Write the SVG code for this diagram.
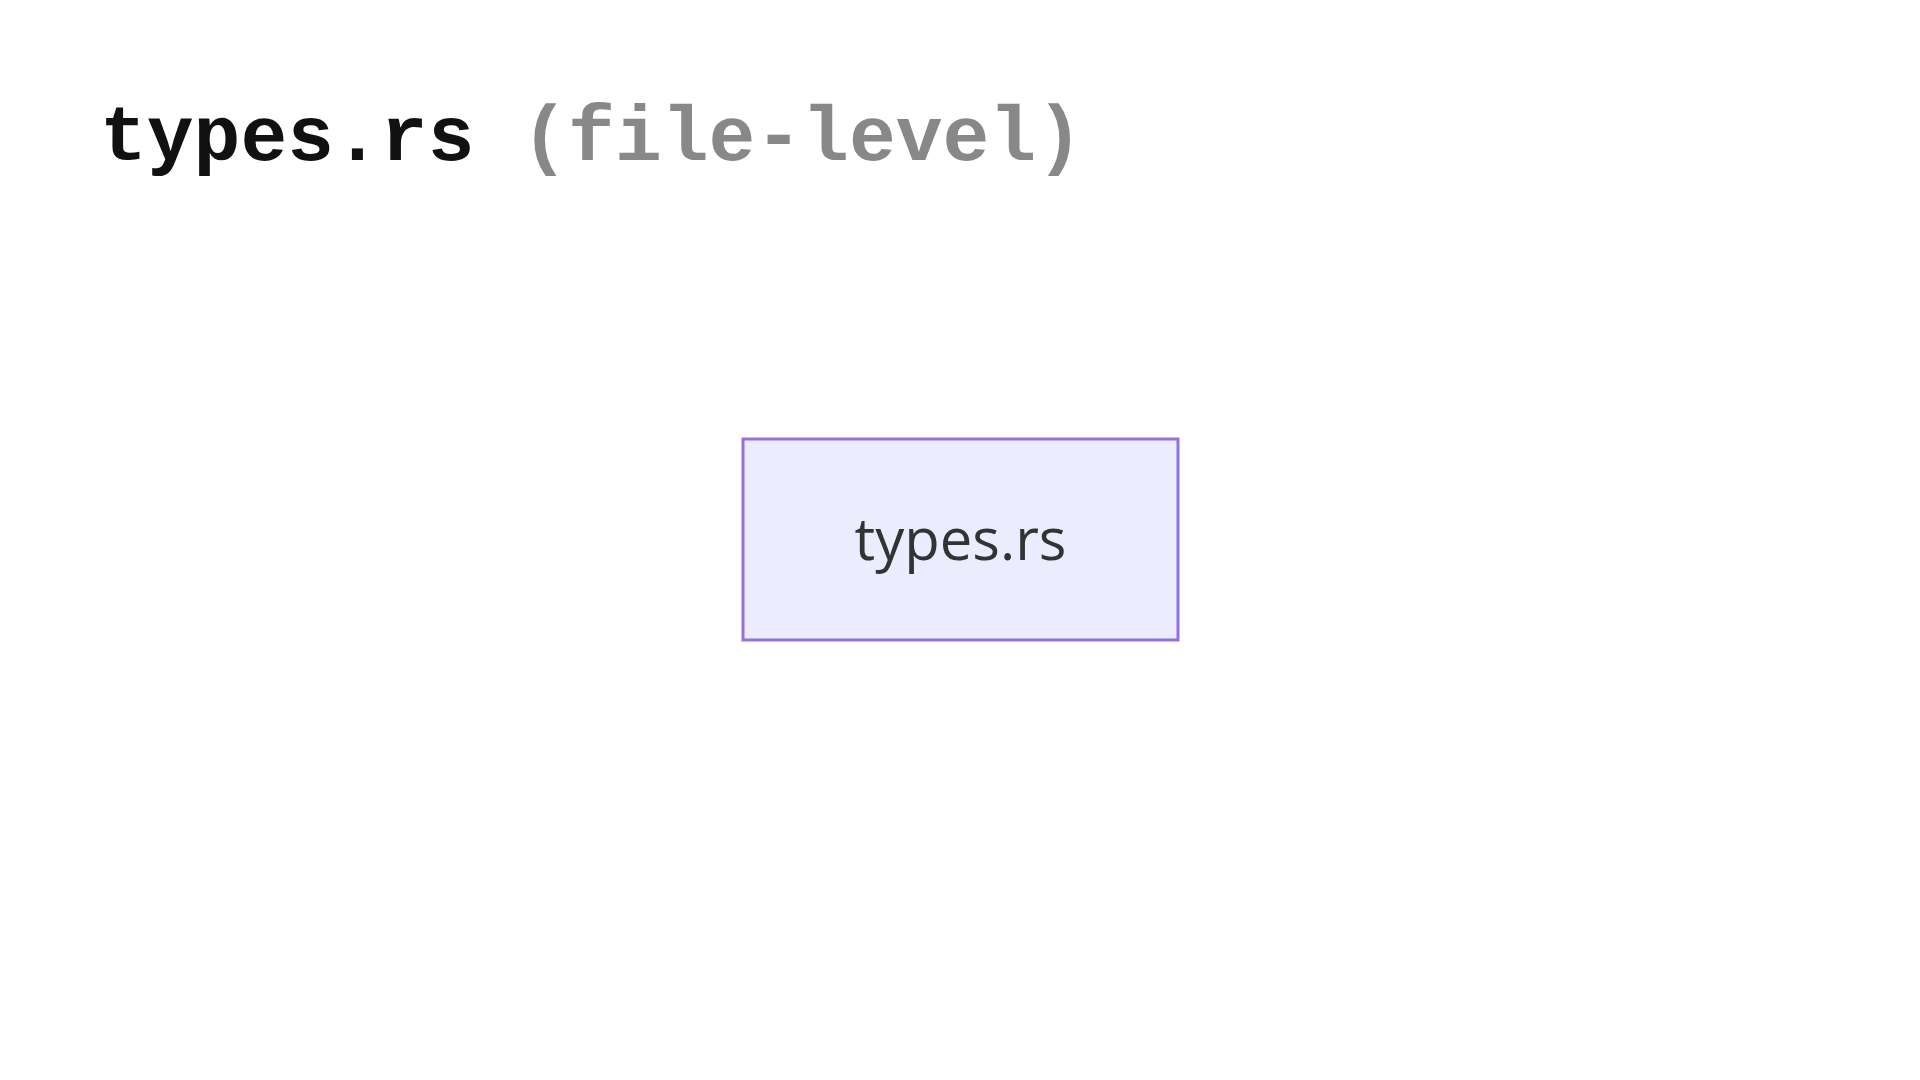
<svg xmlns="http://www.w3.org/2000/svg" width="1920" height="1080" viewBox="0 0 1920 1080">
<style>
.title{font-family:"Liberation Mono","DejaVu Sans Mono",monospace;font-weight:bold;font-size:78px}
.node rect{fill:#ECECFF;stroke:#9370DB;stroke-width:3}
.node text{font-family:"Open Sans","Noto Sans",sans-serif;font-size:58px;fill:#333;text-anchor:middle}
</style>
<rect width="1920" height="1080" fill="#fff"/>
<text class="title" x="100" y="160"><tspan fill="#111">types.rs</tspan><tspan fill="#888"> (file-level)</tspan></text>
<g id="connectors"></g>
<g id="node-types" class="node">
<rect x="743" y="439" width="435" height="201"/>
<text x="960.5" y="560">types.rs</text>
</g>
</svg>
